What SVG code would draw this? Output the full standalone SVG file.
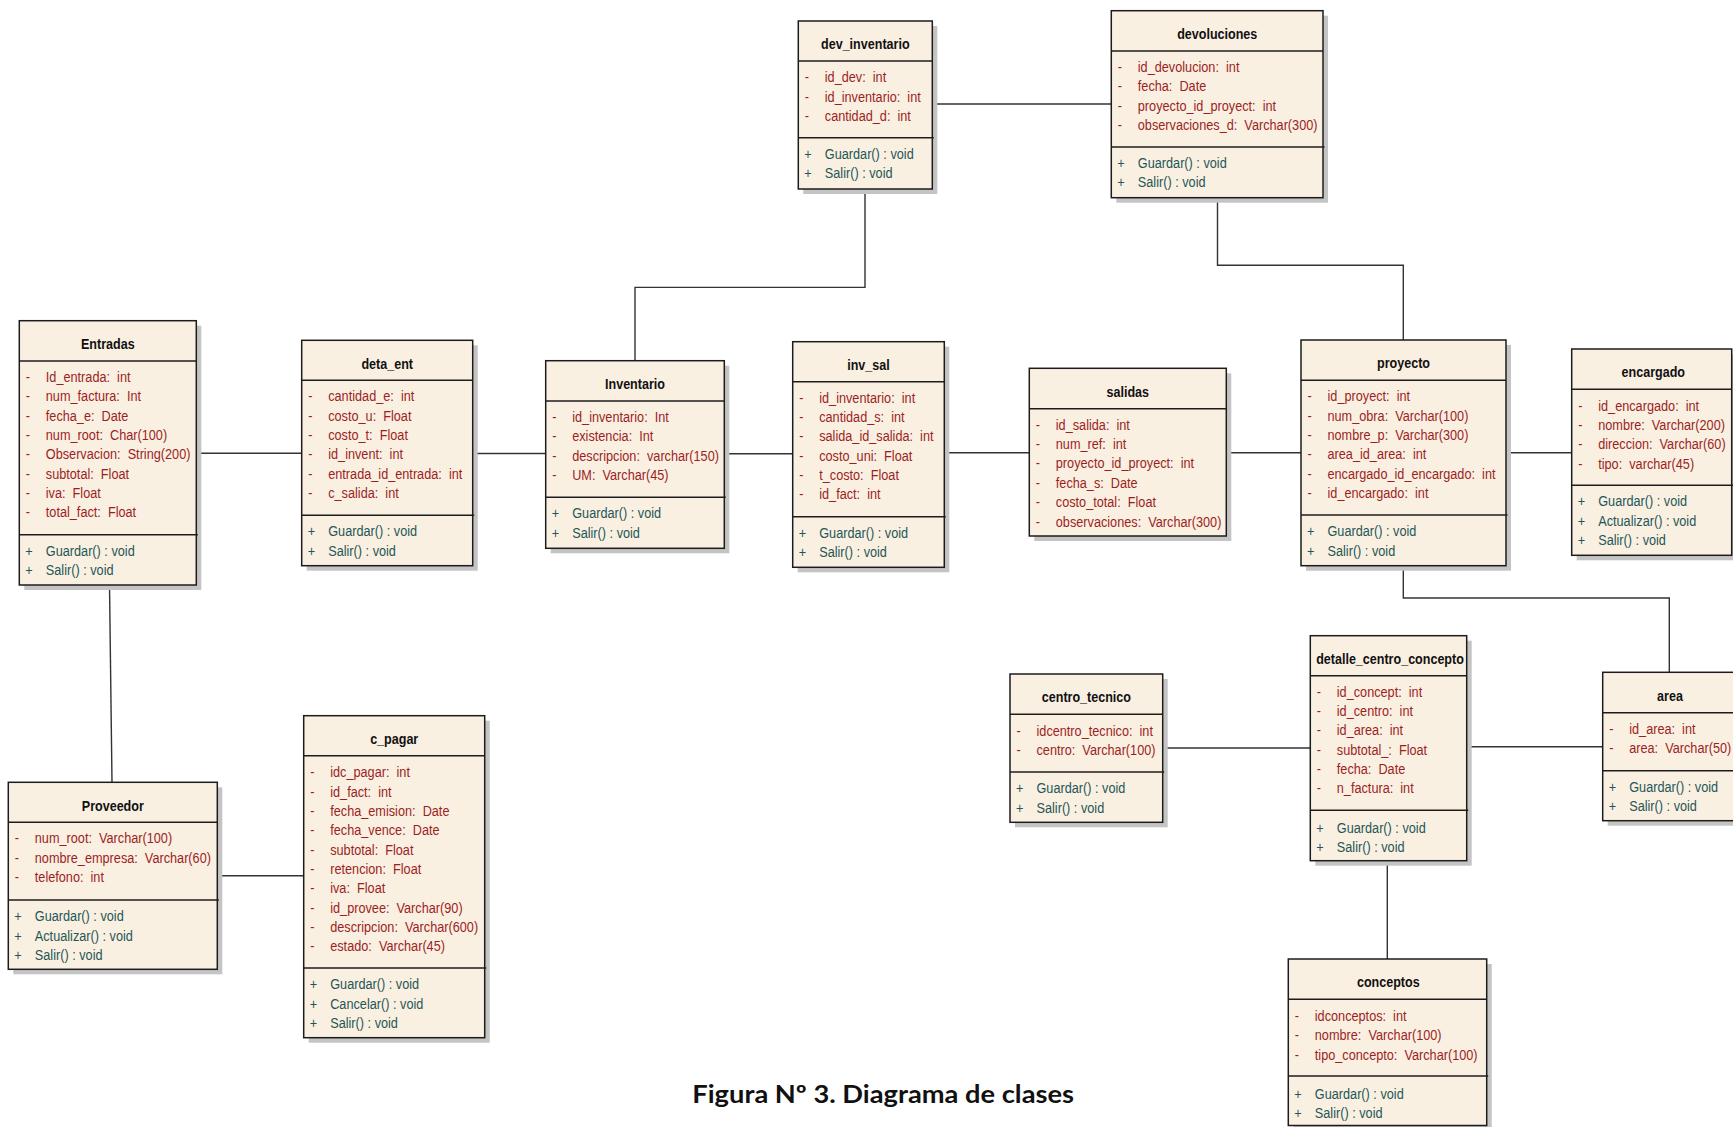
<svg xmlns="http://www.w3.org/2000/svg" width="1733" height="1127" viewBox="0 0 1733 1127">
  <style>
    .shadow { fill: #c4c4c4; }
    .box { fill: #faf0e2; stroke: #1c1c1c; stroke-width: 1.5; }
    .rule { stroke: #1c1c1c; stroke-width: 1.5; }
    .narrow { font-family: 'Liberation Sans', Arial, sans-serif; }
    .title { font-weight: bold; font-size: 15.3px; fill: #111; text-anchor: middle; }
    .attr, .op { font-size: 15.5px; }
    .attr { fill: #9c1f1f; }
    .op { fill: #1f5757; }
    .conn { stroke: #333; stroke-width: 1.4; fill: none; }
    .caption { font-family: Lato, 'Open Sans', 'Liberation Sans', sans-serif; font-weight: bold; font-size: 24.5px; fill: #111; }
  </style>

  <!-- associations between classes -->
  <g id="connectors">
    <line class="conn" x1="196.3" y1="453.3" x2="301.7" y2="453.3"/>
    <line class="conn" x1="472.7" y1="453.5" x2="545.7" y2="453.5"/>
    <line class="conn" x1="724.3" y1="453.8" x2="792.7" y2="453.8"/>
    <line class="conn" x1="944.3" y1="452.7" x2="1029.3" y2="452.7"/>
    <line class="conn" x1="1226.3" y1="452.7" x2="1301" y2="452.7"/>
    <line class="conn" x1="1506" y1="452.7" x2="1571.7" y2="452.7"/>
    <line class="conn" x1="932.3" y1="104" x2="1111.3" y2="104"/>
    <polyline class="conn" points="865,189 865,287.4 635,287.4 635,360.7"/>
    <polyline class="conn" points="1217.5,197.7 1217.5,265.3 1403.3,265.3 1403.3,340"/>
    <line class="conn" x1="109.5" y1="585" x2="112" y2="782.3"/>
    <line class="conn" x1="217.3" y1="875.7" x2="303.7" y2="875.7"/>
    <polyline class="conn" points="1403.3,565.7 1403.3,598 1669.3,598 1669.3,672.3"/>
    <line class="conn" x1="1162.7" y1="748" x2="1310.3" y2="748"/>
    <line class="conn" x1="1466.7" y1="746.7" x2="1602.7" y2="746.7"/>
    <line class="conn" x1="1387.3" y1="860.7" x2="1387.3" y2="959"/>
  </g>

  <!-- class boxes; text is drawn in a horizontally condensed frame (x scaled by 0.82) -->
  <g id="classes">
    <g id="Entradas" transform="translate(19.3,320.7)">
      <rect class="shadow" x="5" y="5" width="177" height="264.3"/>
      <rect class="box" width="177" height="264.3"/>
      <line class="rule" x1="0" y1="40.3" x2="177" y2="40.3"/>
      <line class="rule" x1="0" y1="214" x2="178.5" y2="214"/>
      <g class="narrow" transform="scale(0.82,1)">
        <text class="title" x="107.93" y="28.3">Entradas</text>
        <text class="attr" y="61.3"><tspan x="7.93">-</tspan><tspan x="32.32">Id_entrada:&#160; int</tspan></text>
        <text class="attr" y="80.65"><tspan x="7.93">-</tspan><tspan x="32.32">num_factura:&#160; Int</tspan></text>
        <text class="attr" y="100"><tspan x="7.93">-</tspan><tspan x="32.32">fecha_e:&#160; Date</tspan></text>
        <text class="attr" y="119.35"><tspan x="7.93">-</tspan><tspan x="32.32">num_root:&#160; Char(100)</tspan></text>
        <text class="attr" y="138.7"><tspan x="7.93">-</tspan><tspan x="32.32">Observacion:&#160; String(200)</tspan></text>
        <text class="attr" y="158.05"><tspan x="7.93">-</tspan><tspan x="32.32">subtotal:&#160; Float</tspan></text>
        <text class="attr" y="177.4"><tspan x="7.93">-</tspan><tspan x="32.32">iva:&#160; Float</tspan></text>
        <text class="attr" y="196.75"><tspan x="7.93">-</tspan><tspan x="32.32">total_fact:&#160; Float</tspan></text>
        <text class="op" y="235"><tspan x="7.32">+</tspan><tspan x="32.32">Guardar() : void</tspan></text>
        <text class="op" y="254.35"><tspan x="7.32">+</tspan><tspan x="32.32">Salir() : void</tspan></text>
      </g>
    </g>

    <g id="deta_ent" transform="translate(301.7,340.3)">
      <rect class="shadow" x="5" y="5" width="171" height="225.4"/>
      <rect class="box" width="171" height="225.4"/>
      <line class="rule" x1="0" y1="40" x2="171" y2="40"/>
      <line class="rule" x1="0" y1="175" x2="172.5" y2="175"/>
      <g class="narrow" transform="scale(0.82,1)">
        <text class="title" x="104.27" y="28.3">deta_ent</text>
        <text class="attr" y="61"><tspan x="7.93">-</tspan><tspan x="32.32">cantidad_e:&#160; int</tspan></text>
        <text class="attr" y="80.35"><tspan x="7.93">-</tspan><tspan x="32.32">costo_u:&#160; Float</tspan></text>
        <text class="attr" y="99.7"><tspan x="7.93">-</tspan><tspan x="32.32">costo_t:&#160; Float</tspan></text>
        <text class="attr" y="119.05"><tspan x="7.93">-</tspan><tspan x="32.32">id_invent:&#160; int</tspan></text>
        <text class="attr" y="138.4"><tspan x="7.93">-</tspan><tspan x="32.32">entrada_id_entrada:&#160; int</tspan></text>
        <text class="attr" y="157.75"><tspan x="7.93">-</tspan><tspan x="32.32">c_salida:&#160; int</tspan></text>
        <text class="op" y="196"><tspan x="7.32">+</tspan><tspan x="32.32">Guardar() : void</tspan></text>
        <text class="op" y="215.35"><tspan x="7.32">+</tspan><tspan x="32.32">Salir() : void</tspan></text>
      </g>
    </g>

    <g id="Inventario" transform="translate(545.7,360.7)">
      <rect class="shadow" x="5" y="5" width="178.6" height="187.6"/>
      <rect class="box" width="178.6" height="187.6"/>
      <line class="rule" x1="0" y1="40.3" x2="178.6" y2="40.3"/>
      <line class="rule" x1="0" y1="136.6" x2="180" y2="136.6"/>
      <g class="narrow" transform="scale(0.82,1)">
        <text class="title" x="108.9" y="28.3">Inventario</text>
        <text class="attr" y="61.3"><tspan x="7.93">-</tspan><tspan x="32.32">id_inventario:&#160; Int</tspan></text>
        <text class="attr" y="80.65"><tspan x="7.93">-</tspan><tspan x="32.32">existencia:&#160; Int</tspan></text>
        <text class="attr" y="100"><tspan x="7.93">-</tspan><tspan x="32.32">descripcion:&#160; varchar(150)</tspan></text>
        <text class="attr" y="119.35"><tspan x="7.93">-</tspan><tspan x="32.32">UM:&#160; Varchar(45)</tspan></text>
        <text class="op" y="157.6"><tspan x="7.32">+</tspan><tspan x="32.32">Guardar() : void</tspan></text>
        <text class="op" y="176.95"><tspan x="7.32">+</tspan><tspan x="32.32">Salir() : void</tspan></text>
      </g>
    </g>

    <g id="inv_sal" transform="translate(792.7,341.7)">
      <rect class="shadow" x="5" y="5" width="151.6" height="225.6"/>
      <rect class="box" width="151.6" height="225.6"/>
      <line class="rule" x1="0" y1="40" x2="151.6" y2="40"/>
      <line class="rule" x1="0" y1="175" x2="153" y2="175"/>
      <g class="narrow" transform="scale(0.82,1)">
        <text class="title" x="92.44" y="28.3">inv_sal</text>
        <text class="attr" y="61"><tspan x="7.93">-</tspan><tspan x="32.32">id_inventario:&#160; int</tspan></text>
        <text class="attr" y="80.35"><tspan x="7.93">-</tspan><tspan x="32.32">cantidad_s:&#160; int</tspan></text>
        <text class="attr" y="99.7"><tspan x="7.93">-</tspan><tspan x="32.32">salida_id_salida:&#160; int</tspan></text>
        <text class="attr" y="119.05"><tspan x="7.93">-</tspan><tspan x="32.32">costo_uni:&#160; Float</tspan></text>
        <text class="attr" y="138.4"><tspan x="7.93">-</tspan><tspan x="32.32">t_costo:&#160; Float</tspan></text>
        <text class="attr" y="157.75"><tspan x="7.93">-</tspan><tspan x="32.32">id_fact:&#160; int</tspan></text>
        <text class="op" y="196"><tspan x="7.32">+</tspan><tspan x="32.32">Guardar() : void</tspan></text>
        <text class="op" y="215.35"><tspan x="7.32">+</tspan><tspan x="32.32">Salir() : void</tspan></text>
      </g>
    </g>

    <g id="salidas" transform="translate(1029.3,368.3)">
      <rect class="shadow" x="5" y="5" width="197" height="167.7"/>
      <rect class="box" width="197" height="167.7"/>
      <line class="rule" x1="0" y1="40.4" x2="197" y2="40.4"/>
      <g class="narrow" transform="scale(0.82,1)">
        <text class="title" x="120.12" y="28.3">salidas</text>
        <text class="attr" y="61.5"><tspan x="7.93">-</tspan><tspan x="32.32">id_salida:&#160; int</tspan></text>
        <text class="attr" y="80.85"><tspan x="7.93">-</tspan><tspan x="32.32">num_ref:&#160; int</tspan></text>
        <text class="attr" y="100.2"><tspan x="7.93">-</tspan><tspan x="32.32">proyecto_id_proyect:&#160; int</tspan></text>
        <text class="attr" y="119.55"><tspan x="7.93">-</tspan><tspan x="32.32">fecha_s:&#160; Date</tspan></text>
        <text class="attr" y="138.9"><tspan x="7.93">-</tspan><tspan x="32.32">costo_total:&#160; Float</tspan></text>
        <text class="attr" y="158.25"><tspan x="7.93">-</tspan><tspan x="32.32">observaciones:&#160; Varchar(300)</tspan></text>
      </g>
    </g>

    <g id="proyecto" transform="translate(1301,340)">
      <rect class="shadow" x="5" y="5" width="205" height="225.7"/>
      <rect class="box" width="205" height="225.7"/>
      <line class="rule" x1="0" y1="40.3" x2="205" y2="40.3"/>
      <line class="rule" x1="0" y1="175" x2="206.5" y2="175"/>
      <g class="narrow" transform="scale(0.82,1)">
        <text class="title" x="125" y="28.3">proyecto</text>
        <text class="attr" y="61.3"><tspan x="7.93">-</tspan><tspan x="32.32">id_proyect:&#160; int</tspan></text>
        <text class="attr" y="80.65"><tspan x="7.93">-</tspan><tspan x="32.32">num_obra:&#160; Varchar(100)</tspan></text>
        <text class="attr" y="100"><tspan x="7.93">-</tspan><tspan x="32.32">nombre_p:&#160; Varchar(300)</tspan></text>
        <text class="attr" y="119.35"><tspan x="7.93">-</tspan><tspan x="32.32">area_id_area:&#160; int</tspan></text>
        <text class="attr" y="138.7"><tspan x="7.93">-</tspan><tspan x="32.32">encargado_id_encargado:&#160; int</tspan></text>
        <text class="attr" y="158.05"><tspan x="7.93">-</tspan><tspan x="32.32">id_encargado:&#160; int</tspan></text>
        <text class="op" y="196.3"><tspan x="7.32">+</tspan><tspan x="32.32">Guardar() : void</tspan></text>
        <text class="op" y="215.65"><tspan x="7.32">+</tspan><tspan x="32.32">Salir() : void</tspan></text>
      </g>
    </g>

    <g id="encargado" transform="translate(1571.7,349)">
      <rect class="shadow" x="5" y="5" width="160" height="206.3"/>
      <rect class="box" width="160" height="206.3"/>
      <line class="rule" x1="0" y1="40.3" x2="160" y2="40.3"/>
      <line class="rule" x1="0" y1="136.3" x2="161.5" y2="136.3"/>
      <g class="narrow" transform="scale(0.82,1)">
        <text class="title" x="99.51" y="28.3">encargado</text>
        <text class="attr" y="61.6"><tspan x="7.93">-</tspan><tspan x="32.32">id_encargado:&#160; int</tspan></text>
        <text class="attr" y="80.95"><tspan x="7.93">-</tspan><tspan x="32.32">nombre:&#160; Varchar(200)</tspan></text>
        <text class="attr" y="100.3"><tspan x="7.93">-</tspan><tspan x="32.32">direccion:&#160; Varchar(60)</tspan></text>
        <text class="attr" y="119.65"><tspan x="7.93">-</tspan><tspan x="32.32">tipo:&#160; varchar(45)</tspan></text>
        <text class="op" y="157.5"><tspan x="7.32">+</tspan><tspan x="32.32">Guardar() : void</tspan></text>
        <text class="op" y="176.85"><tspan x="7.32">+</tspan><tspan x="32.32">Actualizar() : void</tspan></text>
        <text class="op" y="196.2"><tspan x="7.32">+</tspan><tspan x="32.32">Salir() : void</tspan></text>
      </g>
    </g>

    <g id="dev_inventario" transform="translate(798.3,21)">
      <rect class="shadow" x="5" y="5" width="134" height="168"/>
      <rect class="box" width="134" height="168"/>
      <line class="rule" x1="0" y1="40" x2="134" y2="40"/>
      <line class="rule" x1="0" y1="116.7" x2="135.5" y2="116.7"/>
      <g class="narrow" transform="scale(0.82,1)">
        <text class="title" x="81.71" y="28.3">dev_inventario</text>
        <text class="attr" y="61.2"><tspan x="7.93">-</tspan><tspan x="32.32">id_dev:&#160; int</tspan></text>
        <text class="attr" y="80.55"><tspan x="7.93">-</tspan><tspan x="32.32">id_inventario:&#160; int</tspan></text>
        <text class="attr" y="99.9"><tspan x="7.93">-</tspan><tspan x="32.32">cantidad_d:&#160; int</tspan></text>
        <text class="op" y="138"><tspan x="7.32">+</tspan><tspan x="32.32">Guardar() : void</tspan></text>
        <text class="op" y="157.35"><tspan x="7.32">+</tspan><tspan x="32.32">Salir() : void</tspan></text>
      </g>
    </g>

    <g id="devoluciones" transform="translate(1111.3,10.7)">
      <rect class="shadow" x="5" y="5" width="211.7" height="187"/>
      <rect class="box" width="211.7" height="187"/>
      <line class="rule" x1="0" y1="40.3" x2="211.7" y2="40.3"/>
      <line class="rule" x1="0" y1="136.3" x2="213.2" y2="136.3"/>
      <g class="narrow" transform="scale(0.82,1)">
        <text class="title" x="129.15" y="28.3">devoluciones</text>
        <text class="attr" y="61.2"><tspan x="7.93">-</tspan><tspan x="32.32">id_devolucion:&#160; int</tspan></text>
        <text class="attr" y="80.55"><tspan x="7.93">-</tspan><tspan x="32.32">fecha:&#160; Date</tspan></text>
        <text class="attr" y="99.9"><tspan x="7.93">-</tspan><tspan x="32.32">proyecto_id_proyect:&#160; int</tspan></text>
        <text class="attr" y="119.25"><tspan x="7.93">-</tspan><tspan x="32.32">observaciones_d:&#160; Varchar(300)</tspan></text>
        <text class="op" y="157.3"><tspan x="7.32">+</tspan><tspan x="32.32">Guardar() : void</tspan></text>
        <text class="op" y="176.65"><tspan x="7.32">+</tspan><tspan x="32.32">Salir() : void</tspan></text>
      </g>
    </g>

    <g id="Proveedor" transform="translate(8.3,782.3)">
      <rect class="shadow" x="5" y="5" width="209" height="187"/>
      <rect class="box" width="209" height="187"/>
      <line class="rule" x1="0" y1="40" x2="209" y2="40"/>
      <line class="rule" x1="0" y1="117.7" x2="210.5" y2="117.7"/>
      <g class="narrow" transform="scale(0.82,1)">
        <text class="title" x="127.44" y="28.3">Proveedor</text>
        <text class="attr" y="61.2"><tspan x="7.93">-</tspan><tspan x="32.32">num_root:&#160; Varchar(100)</tspan></text>
        <text class="attr" y="80.55"><tspan x="7.93">-</tspan><tspan x="32.32">nombre_empresa:&#160; Varchar(60)</tspan></text>
        <text class="attr" y="99.9"><tspan x="7.93">-</tspan><tspan x="32.32">telefono:&#160; int</tspan></text>
        <text class="op" y="139"><tspan x="7.32">+</tspan><tspan x="32.32">Guardar() : void</tspan></text>
        <text class="op" y="158.35"><tspan x="7.32">+</tspan><tspan x="32.32">Actualizar() : void</tspan></text>
        <text class="op" y="177.7"><tspan x="7.32">+</tspan><tspan x="32.32">Salir() : void</tspan></text>
      </g>
    </g>

    <g id="c_pagar" transform="translate(303.7,715.7)">
      <rect class="shadow" x="5" y="5" width="181" height="322"/>
      <rect class="box" width="181" height="322"/>
      <line class="rule" x1="0" y1="40" x2="181" y2="40"/>
      <line class="rule" x1="0" y1="252.3" x2="182.5" y2="252.3"/>
      <g class="narrow" transform="scale(0.82,1)">
        <text class="title" x="110.37" y="28.3">c_pagar</text>
        <text class="attr" y="61.6"><tspan x="7.93">-</tspan><tspan x="32.32">idc_pagar:&#160; int</tspan></text>
        <text class="attr" y="80.95"><tspan x="7.93">-</tspan><tspan x="32.32">id_fact:&#160; int</tspan></text>
        <text class="attr" y="100.3"><tspan x="7.93">-</tspan><tspan x="32.32">fecha_emision:&#160; Date</tspan></text>
        <text class="attr" y="119.65"><tspan x="7.93">-</tspan><tspan x="32.32">fecha_vence:&#160; Date</tspan></text>
        <text class="attr" y="139"><tspan x="7.93">-</tspan><tspan x="32.32">subtotal:&#160; Float</tspan></text>
        <text class="attr" y="158.35"><tspan x="7.93">-</tspan><tspan x="32.32">retencion:&#160; Float</tspan></text>
        <text class="attr" y="177.7"><tspan x="7.93">-</tspan><tspan x="32.32">iva:&#160; Float</tspan></text>
        <text class="attr" y="197.05"><tspan x="7.93">-</tspan><tspan x="32.32">id_provee:&#160; Varchar(90)</tspan></text>
        <text class="attr" y="216.4"><tspan x="7.93">-</tspan><tspan x="32.32">descripcion:&#160; Varchar(600)</tspan></text>
        <text class="attr" y="235.75"><tspan x="7.93">-</tspan><tspan x="32.32">estado:&#160; Varchar(45)</tspan></text>
        <text class="op" y="273.6"><tspan x="7.32">+</tspan><tspan x="32.32">Guardar() : void</tspan></text>
        <text class="op" y="292.95"><tspan x="7.32">+</tspan><tspan x="32.32">Cancelar() : void</tspan></text>
        <text class="op" y="312.3"><tspan x="7.32">+</tspan><tspan x="32.32">Salir() : void</tspan></text>
      </g>
    </g>

    <g id="centro_tecnico" transform="translate(1010,674)">
      <rect class="shadow" x="5" y="5" width="152.7" height="148.3"/>
      <rect class="box" width="152.7" height="148.3"/>
      <line class="rule" x1="0" y1="40.3" x2="152.7" y2="40.3"/>
      <line class="rule" x1="0" y1="98" x2="154.2" y2="98"/>
      <g class="narrow" transform="scale(0.82,1)">
        <text class="title" x="93.17" y="28.3">centro_tecnico</text>
        <text class="attr" y="61.7"><tspan x="7.93">-</tspan><tspan x="32.32">idcentro_tecnico:&#160; int</tspan></text>
        <text class="attr" y="81.05"><tspan x="7.93">-</tspan><tspan x="32.32">centro:&#160; Varchar(100)</tspan></text>
        <text class="op" y="119.3"><tspan x="7.32">+</tspan><tspan x="32.32">Guardar() : void</tspan></text>
        <text class="op" y="138.65"><tspan x="7.32">+</tspan><tspan x="32.32">Salir() : void</tspan></text>
      </g>
    </g>

    <g id="detalle_centro_concepto" transform="translate(1310.3,635.7)">
      <rect class="shadow" x="5" y="5" width="156.4" height="225"/>
      <rect class="box" width="156.4" height="225"/>
      <line class="rule" x1="0" y1="40" x2="156.4" y2="40"/>
      <line class="rule" x1="0" y1="174.6" x2="157.9" y2="174.6"/>
      <g class="narrow" transform="scale(0.82,1)">
        <text class="title" x="97.2" y="28.3">detalle_centro_concepto</text>
        <text class="attr" y="61"><tspan x="7.93">-</tspan><tspan x="32.32">id_concept:&#160; int</tspan></text>
        <text class="attr" y="80.35"><tspan x="7.93">-</tspan><tspan x="32.32">id_centro:&#160; int</tspan></text>
        <text class="attr" y="99.7"><tspan x="7.93">-</tspan><tspan x="32.32">id_area:&#160; int</tspan></text>
        <text class="attr" y="119.05"><tspan x="7.93">-</tspan><tspan x="32.32">subtotal_:&#160; Float</tspan></text>
        <text class="attr" y="138.4"><tspan x="7.93">-</tspan><tspan x="32.32">fecha:&#160; Date</tspan></text>
        <text class="attr" y="157.75"><tspan x="7.93">-</tspan><tspan x="32.32">n_factura:&#160; int</tspan></text>
        <text class="op" y="197"><tspan x="7.32">+</tspan><tspan x="32.32">Guardar() : void</tspan></text>
        <text class="op" y="216.35"><tspan x="7.32">+</tspan><tspan x="32.32">Salir() : void</tspan></text>
      </g>
    </g>

    <g id="area" transform="translate(1602.7,672.3)">
      <rect class="shadow" x="5" y="5" width="136" height="148.4"/>
      <rect class="box" width="136" height="148.4"/>
      <line class="rule" x1="0" y1="40.4" x2="136" y2="40.4"/>
      <line class="rule" x1="0" y1="98.4" x2="136" y2="98.4"/>
      <g class="narrow" transform="scale(0.82,1)">
        <text class="title" x="82.07" y="28.3">area</text>
        <text class="attr" y="61.7"><tspan x="7.93">-</tspan><tspan x="32.32">id_area:&#160; int</tspan></text>
        <text class="attr" y="81.05"><tspan x="7.93">-</tspan><tspan x="32.32">area:&#160; Varchar(50)</tspan></text>
        <text class="op" y="119.4"><tspan x="7.32">+</tspan><tspan x="32.32">Guardar() : void</tspan></text>
        <text class="op" y="138.75"><tspan x="7.32">+</tspan><tspan x="32.32">Salir() : void</tspan></text>
      </g>
    </g>

    <g id="conceptos" transform="translate(1288.3,959)">
      <rect class="shadow" x="5" y="5" width="198.4" height="166.5"/>
      <rect class="box" width="198.4" height="166.5"/>
      <line class="rule" x1="0" y1="40.3" x2="198.4" y2="40.3"/>
      <line class="rule" x1="0" y1="117" x2="199.9" y2="117"/>
      <g class="narrow" transform="scale(0.82,1)">
        <text class="title" x="121.95" y="28.3">conceptos</text>
        <text class="attr" y="62"><tspan x="7.93">-</tspan><tspan x="32.32">idconceptos:&#160; int</tspan></text>
        <text class="attr" y="81.35"><tspan x="7.93">-</tspan><tspan x="32.32">nombre:&#160; Varchar(100)</tspan></text>
        <text class="attr" y="100.7"><tspan x="7.93">-</tspan><tspan x="32.32">tipo_concepto:&#160; Varchar(100)</tspan></text>
        <text class="op" y="140"><tspan x="7.32">+</tspan><tspan x="32.32">Guardar() : void</tspan></text>
        <text class="op" y="159.35"><tspan x="7.32">+</tspan><tspan x="32.32">Salir() : void</tspan></text>
      </g>
    </g>
  </g>

  <text class="caption" x="692.3" y="1103.3" textLength="381.7" lengthAdjust="spacingAndGlyphs">Figura Nº 3. Diagrama de clases</text>
</svg>
